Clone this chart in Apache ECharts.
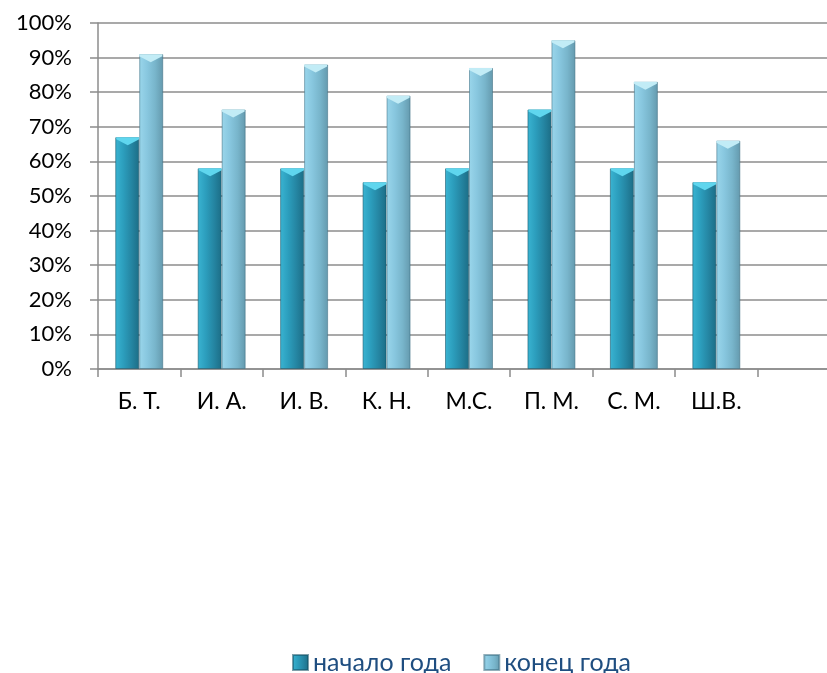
<!DOCTYPE html>
<html>
<head>
<meta charset="utf-8">
<script src="https://cdn.jsdelivr.net/npm/echarts@6/dist/echarts.min.js"></script>
<style>
  html, body { margin: 0; padding: 0; background: #fff; overflow: hidden; }
  #chart { width: 845px; height: 673px; }
</style>
</head>
<body>
<div id="chart"></div>
<script>
// Students (last slot on the axis is left empty)
const categories = ['Б. Т.', 'И. А.', 'И. В.', 'К. Н.', 'М.С.', 'П. М.', 'С. М.', 'Ш.В.', ''];
// Share of the skill mastered, start and end of the school year
const startOfYear = [0.67, 0.58, 0.58, 0.54, 0.58, 0.75, 0.58, 0.54, null];
const endOfYear   = [0.91, 0.75, 0.88, 0.79, 0.87, 0.95, 0.83, 0.66, null];
const seriesNames = ['начало года', 'конец года'];

const FONT = 'Lato, "Noto Sans", sans-serif';
const BAR_W = 24;

function hGrad(stops) {
  return new echarts.graphic.LinearGradient(0, 0, 1, 0,
    stops.map((c, i) => ({ offset: i / (stops.length - 1), color: c })));
}
const darkFill  = hGrad(['#3ab4d2', '#2c9ebd', '#2586a3', '#1c6d86']);
const lightFill = hGrad(['#9ad6eb', '#88c7df', '#78b5cb', '#6499ad']);

// bevelled top cap of each bar
const capPath = 'path://M0,0 L24,0 L24,2 L12,8 L0,2 Z';

const chart = echarts.init(document.getElementById('chart'));
chart.setOption({
  animation: false,
  grid: { left: 98, top: 23, height: 346, width: 742, containLabel: false },
  xAxis: {
    type: 'category',
    data: categories,
    axisLine: { lineStyle: { color: '#8c8c8c', width: 1.5 } },
    axisTick: { show: true, length: 8, alignWithLabel: false, lineStyle: { color: '#8c8c8c', width: 1.5 } },
    axisLabel: { color: '#000', fontFamily: FONT, fontSize: 23, margin: 21 }
  },
  yAxis: {
    type: 'value',
    min: 0, max: 1, interval: 0.1,
    axisLine: { show: true, lineStyle: { color: '#8c8c8c', width: 1.5 } },
    axisTick: { show: true, length: 8, lineStyle: { color: '#8c8c8c', width: 1.5 } },
    splitLine: { show: true, lineStyle: { color: '#8c8c8c', width: 1.5 } },
    axisLabel: {
      color: '#000', fontFamily: FONT, fontSize: 22, margin: 26,
      formatter: v => Math.round(v * 100) + '%'
    }
  },
  legend: {
    top: 645,
    left: 287,
    itemWidth: 15, itemHeight: 15, itemGap: 32,
    icon: 'rect',
    data: seriesNames,
    textStyle: { color: '#1f4e80', fontFamily: FONT, fontSize: 25 }
  },
  series: [
    {
      name: seriesNames[0], type: 'bar', data: startOfYear,
      barWidth: BAR_W, barGap: '0%',
      itemStyle: { color: darkFill, borderColor: 'rgba(20,80,100,0.55)', borderWidth: 1 },
      z: 2
    },
    {
      name: seriesNames[1], type: 'bar', data: endOfYear,
      barWidth: BAR_W, barGap: '0%',
      itemStyle: { color: lightFill, borderColor: 'rgba(60,110,130,0.55)', borderWidth: 1 },
      z: 2
    },
    {
      name: seriesNames[0], type: 'pictorialBar', data: startOfYear,
      symbol: capPath, symbolSize: [BAR_W - 1, 8], symbolPosition: 'end',
      symbolOffset: ['-50%', 0], itemStyle: { color: '#5fd6ee' },
      legendHoverLink: false, z: 3, silent: true
    },
    {
      name: seriesNames[1], type: 'pictorialBar', data: endOfYear,
      symbol: capPath, symbolSize: [BAR_W - 1, 8], symbolPosition: 'end',
      symbolOffset: ['50%', 0], itemStyle: { color: '#c2ecf6' },
      legendHoverLink: false, z: 3, silent: true
    }
  ]
});
</script>
</body>
</html>
